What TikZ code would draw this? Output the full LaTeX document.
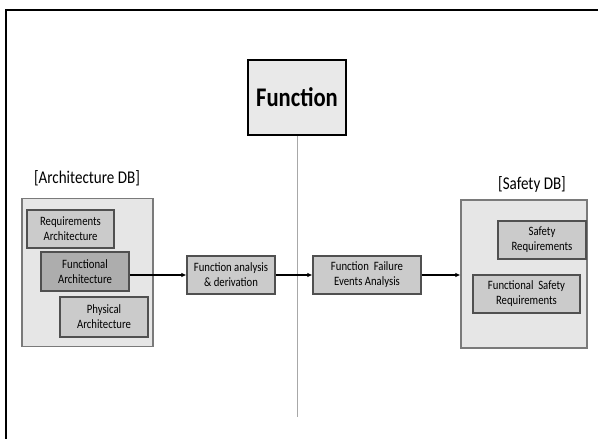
\documentclass[tikz,border=0pt]{standalone}
\usepackage{fontspec}
\setmainfont{Carlito}[FakeStretch=0.84]
\usetikzlibrary{arrows.meta}
\definecolor{dbfill}{HTML}{E6E6E6}
\definecolor{dbline}{HTML}{7A7A7A}
\definecolor{itemfill}{HTML}{CBCBCB}
\definecolor{itemdark}{HTML}{ADADAD}
\definecolor{itemline}{HTML}{505050}
\definecolor{topfill}{HTML}{E9E9E9}
\definecolor{axisline}{HTML}{A8A8A8}
\tikzset{
  dbbox/.style={draw=dbline, fill=dbfill, line width=1.2bp, inner sep=0pt},
  item/.style={draw=itemline, fill=itemfill, line width=1.2bp, inner sep=0pt,
    align=center, font=\fontsize{12.8}{15}\selectfont},
  dblabel/.style={font=\fontsize{18}{20}\selectfont, inner sep=0pt},
  arr/.style={line width=1.3bp, -{Latex[length=5bp,width=4.5bp]}},
}
\begin{document}
\begin{tikzpicture}[x=1bp, y=-1bp]
\useasboundingbox (0,0) rectangle (598,439);
% frame edges
\draw[line width=2bp] (6,439) -- (6,10) -- (598,10);

% central function block and its axis
\node[draw=black, fill=topfill, line width=1.6bp, minimum width=98bp, minimum height=75bp,
      inner sep=0pt, font=\fontsize{27}{30}\selectfont\bfseries] (fn) at (297,97.5) {Function};
\coordinate (axisend) at (297,417);
\draw[axisline, line width=1bp] (fn.south) -- (axisend);

% architecture database
\node[dblabel] (archlbl) at (87,178) {[Architecture DB]};
\node[dbbox, minimum width=131bp, minimum height=148bp] (archdb) at (87.5,272.5) {};
\node[item, minimum width=87bp, minimum height=38bp] (req) at (70.5,229) {Requirements\\Architecture};
\node[item, fill=itemdark, minimum width=88bp, minimum height=39bp] (func) at (85,271.5) {Functional\\Architecture};
\node[item, minimum width=88bp, minimum height=40bp] (phys) at (104,317) {Physical\\Architecture};

% analysis steps
\node[item, minimum width=88bp, minimum height=38bp] (fa) at (231,275) {Function analysis\\\& derivation};
\node[item, minimum width=108bp, minimum height=38bp] (ffe) at (367,275) {Function~ Failure\\Events Analysis};

% safety database
\node[dblabel] (safelbl) at (532,184) {[Safety DB]};
\node[dbbox, minimum width=126bp, minimum height=148bp] (safedb) at (524,274) {};
\node[item, minimum width=88bp, minimum height=38bp] (sreq) at (542,240) {Safety\\Requirements};
\node[item, minimum width=107bp, minimum height=38bp] (fsr) at (526.5,294) {Functional~ Safety\\Requirements};

% flow
\draw[arr] (func.east |- fa.west) -- (fa.west);
\draw[arr] (fa.east) -- (ffe.west);
\draw[arr] (ffe.east) -- (safedb.west |- ffe.east);
\end{tikzpicture}
\end{document}
